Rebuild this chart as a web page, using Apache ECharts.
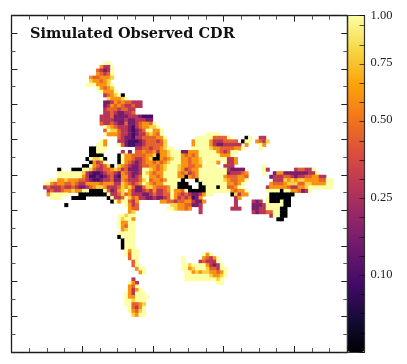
<!DOCTYPE html>
<html><head><meta charset="utf-8">
<style>html,body{margin:0;padding:0;background:#fff}#c{width:407px;height:364px}</style>
<script src="https://cdn.jsdelivr.net/npm/echarts@6/dist/echarts.min.js"></script>
</head><body><div id="c"></div>
<script>
var titleText = 'Simulated Observed CDR';
var gridSize = 95;
var firstRow = 13;
// One string per image row, "col:cells". Each cell letter is a value level.
var cdrRows = [
"26:yy","25:ommy","24:rmpmy","24:ormry","22:orroool","22:loorol","21:yyyoooly","24:yorol","25:yoooy","26:mroly#",
"27:loooly","26:ppmororrmmm","26:pmorormmrmm","26:mrrrmrrmm","26:mmrmppmmr","25:mmmrppppmmmpddd","25:mmmmpppmppmmmpp",
"25:rmmrmpprppmroory","26:ylormmmpdmroolly","26:ryllrmmpdpmryyooy","26:yooormmpdpmmolory 55:yyyy",
"30:rmppdmmrrrrooy 52:yyyyyrrrry 66:#y 70:mm",
"25:yo 30:mmpdddpmrrrmrl 51:oyyyyommmrrrr 65:#yy 69:orml",
"24:yyo 30:yrpddppmrrrrrl 51:oyyyyomppmmmmm 66:o 70:yo",
"22:##yyy 35:mmrrmrrolyy 51:yyyyyloorrrrooy 70:y",
"22:##yy 31:m 33:p 35:rrorromoolyyy 48:ppoooyyyyyormryy",
"22:#### 30:# 31:yoorrrrool 41:# 42:oolyyyororoyyyyyyoooy",
"21:#ylly# 30:# 31:yoormmrol 40:##orolyyooroolyyyyyyymmo",
"22:#omry 30:# 31:yormpmroo 40:rorolyyyoorool 55:yyy 58:o 60:ymmo",
"20:##yormrl 28:# 30:lormppmrroorolyyyloorrooyyyy 60:mmm 71:y",
"13:# 17:###yylrmmrrolomrpppmyylorolyyylomrooyyyyyyyympppp 71:ym 80:mrrmmy",
"13:yyyyyyylmpddpmrrmpormppmylorooyyyyoromroyyyyyyyypmmmro 71:y 74:poopppppppmmy",
"13:yyyyyyyomddpdpmrpdoompmryyooroyyyyoo#oroyyyyyyyorrroor 73:pmmmrrmpmmrroomm",
"11:yyoolooorrmpddpmmrppormmmrlyrooroyyyy# 52:#yyyyyyylorrooy 74:mmmlololloooorryy",
"9:yyoroorrormmoooorooommlormroylorooyyyy### 53:#yyyyyyyooroy 73:orrrolllrrllooooyy",
"9:mrmmmrmmrmppmrollommmrlolrpprllorrroyy#### 53:##yyy#yyrroy 72:mooooormmoolyyyyyyy",
"10:mrmmroolooyy####yrpmolyomppmrmommroyoory#####yyyyyyyorooy 72:yyyy#yyoor 82:pmy",
"10:oyyyyy 19:########ymmrlrommmppmrmmrryormrmppmo 55:yy 62:#lmoo 73:#######",
"11:yyy 17:#### 27:#ymmrylrommppmppmryomrmrdpo 63:mo 72:y######",
"28:#yoyyrmo 42:oorrmrroomppo 63:m 68:mpm 72:y###y##",
"15:# 32:yomr 45:lloorrppm 63:m 68:ppp 71:myyyyy##",
"33:orr 44:yylooro 53:m 62:mmm 68:ppm 71:myyyy##",
"33:ol 53:m 68:mpm 71:mrryy##",
"30:yylyy 73:myy##","30:ylyyo 75:##","30:yooyy","30:yoryy","31:olyy","30:yyyyy","30:#yyyy","31:#yyy","31:#yyy","31:#yyy",
"32:yoyy","32:yryy 54:yoy","33:ryy 48:y 54:ormoy","34:ry 48:y 53:mrmmmy","34:ry 48:yylyyyyompmy",
"35:oyy 48:yyolyyylrrmyy","36:oy 49:yyolollooroy","49:yyyyyyylooly","34:m 49:yyyyyyyyyly","33:yom 58:yy",
"33:ory","33:omoy","32:yomyyy","32:yooyyyy","32:yylyyy","32:yyrrol","33:yrmoy","33:yorly","34:loyy"
];
var levelValues = {y:1, l:0.8, o:0.6, r:0.45, m:0.28, p:0.17, d:0.09, '#':0};
// colour-bar scale: value -> fraction of bar height
var barValues = [0, 0.10, 0.25, 0.50, 0.75, 1.00];
var barFractions = [0, 0.23, 0.46, 0.69, 0.86, 1];
var barLabelValues = [0.10, 0.25, 0.50, 0.75, 1.00];
var barTickStep = 0.0571;
var infernoStops = ['#000004','#160b39','#420a68','#6a176e','#932667','#bc3754','#dd513a','#f37819','#fca50a','#f6d746','#fcffa4'];

function norm(v){
  for (var i=1;i<barValues.length;i++){
    if (v<=barValues[i]) {
      var f=(v-barValues[i-1])/(barValues[i]-barValues[i-1]);
      return barFractions[i-1]+f*(barFractions[i]-barFractions[i-1]);
    }
  }
  return 1;
}
var cells=[];
cdrRows.forEach(function(line,ri){
  line.split(' ').forEach(function(seg){
    var p=seg.split(':'), c0=+p[0];
    for (var k=0;k<p[1].length;k++){
      var v=levelValues[p[1][k]];
      cells.push([c0+k, firstRow+ri, v, norm(v)]);
    }
  });
});
var idx=[]; for (var i=0;i<gridSize;i++) idx.push(i);

var L=11.5,T=15.7,W=335.8,H=336.3;
function frameAxis(pos,gi,interval,len,color,line){
  return {type:'value',gridIndex:gi,position:pos,min:0,max:gridSize,interval:interval,z:10,
    axisLine:{show:line,onZero:false,lineStyle:{color:'#1a1a1a',width:1.3}},
    axisTick:{show:true,inside:true,length:len,lineStyle:{color:color,width:1}},
    axisLabel:{show:false},splitLine:{show:false}};
}
var labelFractions=barLabelValues.map(norm);
function barEdge(pos){
  return {type:'value',gridIndex:2,position:pos,min:0,max:1,z:10,
    axisLine:{show:true,onZero:false,lineStyle:{color:'#333',width:1.2}},axisTick:{show:false},axisLabel:{show:false},splitLine:{show:false}};
}
var chart=echarts.init(document.getElementById('c'),null,{renderer:'canvas'});
chart.setOption({
  animation:false,backgroundColor:'#fff',
  title:{text:titleText,left:30,top:27,padding:0,
    textStyle:{fontFamily:'DejaVu Serif',fontWeight:'bold',fontSize:14.5,color:'#111'}},
  grid:[
    {left:L,top:T,width:W,height:H},
    {left:L,top:T,width:W,height:H},
    {left:347.5,top:T,width:17,height:H},
    {left:L,top:T,width:W,height:H}
  ],
  xAxis:[
    {type:'category',gridIndex:0,data:idx,show:false},
    frameAxis('bottom',1,5,4,'#555',true),
    frameAxis('top',1,5,4,'#555',true),
    barEdge('bottom'),barEdge('top'),
    frameAxis('bottom',3,20,6,'#222',false),
    frameAxis('top',3,20,6,'#222',false)
  ],
  yAxis:[
    {type:'category',gridIndex:0,data:idx,inverse:true,show:false},
    frameAxis('left',1,5,4,'#555',true),
    frameAxis('right',1,5,4,'#555',true),
    barEdge('left'),
    {type:'value',gridIndex:2,position:'right',min:0,max:1,interval:barTickStep,z:10,
      axisLine:{show:true,onZero:false,lineStyle:{color:'#333',width:1.2}},
      axisTick:{show:true,inside:true,length:5,lineStyle:{color:'rgba(0,0,0,0.65)',width:1}},
      axisLabel:{show:true,customValues:labelFractions,margin:6,fontFamily:'Liberation Serif',fontSize:12.5,color:'#222',
        formatter:function(t){var i=labelFractions.indexOf(t);return i<0?'':barLabelValues[i].toFixed(2);}},
      splitLine:{show:false}},
    frameAxis('left',3,10,6,'#222',false),
    frameAxis('right',3,10,6,'#222',false)
  ],
  visualMap:{type:'continuous',show:true,z:1,dimension:3,seriesIndex:0,min:0,max:1,calculable:false,
    left:347.5,top:T,itemWidth:17,itemHeight:H,padding:0,text:null,showLabel:false,hoverLink:false,
    inRange:{color:infernoStops}},
  series:[{type:'heatmap',xAxisIndex:0,yAxisIndex:0,data:cells,encode:{x:0,y:1,value:2},progressive:0,
    itemStyle:{borderWidth:0},emphasis:{disabled:true}}]
});
</script></body></html>
